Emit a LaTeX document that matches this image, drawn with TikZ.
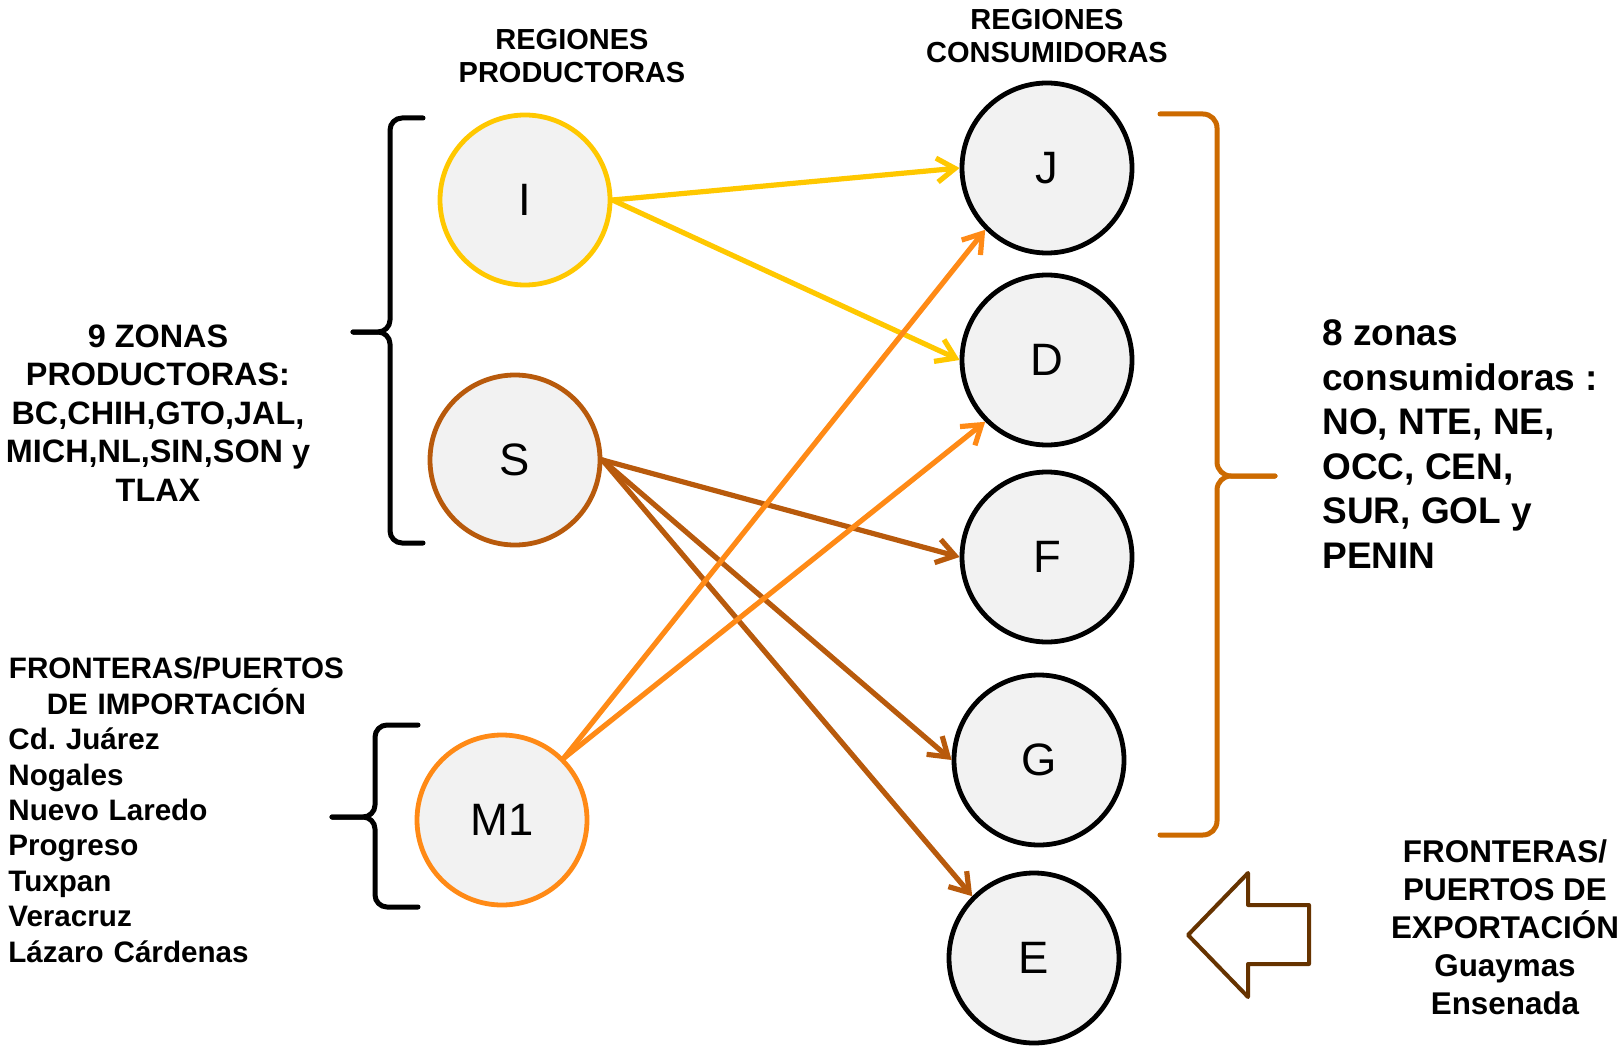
\documentclass[tikz,border=0pt]{standalone}
\usepackage{fontspec}
\setmainfont{Liberation Sans}
\usetikzlibrary{arrows.meta}
\definecolor{amarillo}{HTML}{FFC800}
\definecolor{cafe}{HTML}{B85A0C}
\definecolor{naranja}{HTML}{FF8A16}
\definecolor{llave}{HTML}{CC6A00}
\definecolor{flechaexp}{HTML}{663300}
\definecolor{relleno}{HTML}{F2F2F2}
\begin{document}
\begin{tikzpicture}[x=0.5pt, y=-0.5pt, line join=round, line cap=round,
	zona/.style={circle, draw=black, line width=2.4pt, fill=relleno, minimum size=85pt, inner sep=0pt, font=\fontsize{22.7}{26}\selectfont},
	flujo/.style={line width=2.6pt, -{Straight Barb[length=9pt,width=12pt]}},
	llaveizq/.style={line width=2.5pt, rounded corners=6pt},
	titulo/.style={inner sep=0pt, align=center, font=\bfseries\fontsize{14.5}{16.5}\selectfont}]
	\useasboundingbox (0,0) rectangle (1622,1048);
	% regiones productoras
	\node[zona, draw=amarillo] (I) at (525,200) {I};
	\node[zona, draw=cafe] (S) at (515,460) {S};
	\node[zona, draw=naranja] (M1) at (502,820) {M1};
	% regiones consumidoras
	\node[zona] (J) at (1047,168) {J};
	\node[zona] (D) at (1047,360) {D};
	\node[zona] (F) at (1047,557) {F};
	\node[zona] (G) at (1039,760) {G};
	\node[zona] (E) at (1034,958) {E};
	% flujos
	\draw[flujo, amarillo] (I.east) -- (J.west);
	\draw[flujo, amarillo] (I.east) -- (D.west);
	\draw[flujo, cafe] (S.east) -- (F.west);
	\draw[flujo, cafe] (S.east) -- (G.west);
	\draw[flujo, cafe] (S.east) -- (E.north west);
	\draw[flujo, naranja] (M1.north east) -- (J.south west);
	\draw[flujo, naranja] (M1.north east) -- (D.south west);
	% llaves
	\draw[llaveizq] (423,118) -- (390,118) -- (390,332) -- (353,332);
	\draw[llaveizq] (353,332) -- (390,332) -- (390,543) -- (423,543);
	\draw[llaveizq] (418,725) -- (375,725) -- (375,817) -- (332,817);
	\draw[llaveizq] (332,817) -- (375,817) -- (375,907) -- (418,907);
	\draw[llaveizq, llave, rounded corners=7pt] (1160,114) -- (1217,114) -- (1217,476) -- (1275,476);
	\draw[llaveizq, llave, rounded corners=7pt] (1275,476) -- (1217,476) -- (1217,835) -- (1160,835);
	% flecha de exportacion
	\draw[line width=2pt, flechaexp, fill=white] (1188,935) -- (1248,873) -- (1248,905) -- (1309,905) -- (1309,964) -- (1248,964) -- (1248,997) -- cycle;
	% textos
	\node[titulo] (tprod) at (572,56) {REGIONES\\PRODUCTORAS};
	\node[titulo] (tcons) at (1047,36) {REGIONES\\CONSUMIDORAS};
	\node[titulo, font=\bfseries\fontsize{16.2}{19.3}\selectfont] (zprod) at (158,413) {9 ZONAS\\PRODUCTORAS:\\BC,CHIH,GTO,JAL,\\MICH,NL,SIN,SON y\\TLAX};
	\node[titulo, anchor=west, text width=168pt, align=left, font=\bfseries\fontsize{14.8}{17.7}\selectfont] (puertimp) at (8,810) {{\centering FRONTERAS/PUERTOS\\DE IMPORTACIÓN\par}Cd.\ Juárez\\Nogales\\Nuevo Laredo\\Progreso\\Tuxpan\\Veracruz\\Lázaro Cárdenas};
	\node[titulo, anchor=west, align=left, font=\bfseries\fontsize{18.5}{22.3}\selectfont] (zcons) at (1322,444) {8 zonas\\consumidoras :\\NO, NTE, NE,\\OCC, CEN,\\SUR, GOL y\\PENIN};
	\node[titulo, font=\bfseries\fontsize{15.7}{19}\selectfont] (puertexp) at (1505,927) {FRONTERAS/\\PUERTOS DE\\EXPORTACIÓN\\Guaymas\\Ensenada};
\end{tikzpicture}
\end{document}
